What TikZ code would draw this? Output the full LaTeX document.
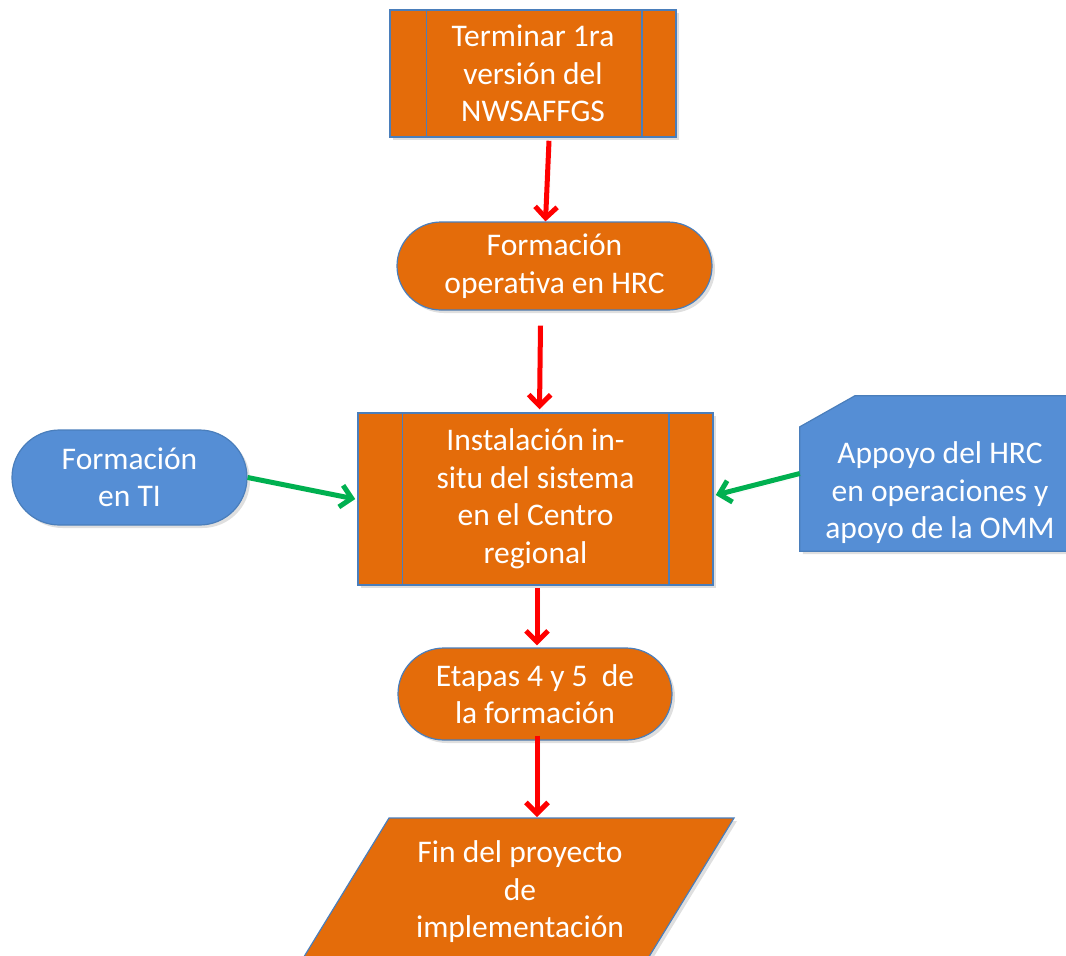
\documentclass[tikz,border=0pt]{standalone}
\usepackage{fontspec}
\setmainfont{Carlito}
\usetikzlibrary{shapes.misc,arrows.meta,shadows}
\definecolor{orF}{HTML}{E46C0A}
\definecolor{blF}{HTML}{558ED5}
\definecolor{blB}{HTML}{4A7EBB}
\definecolor{redA}{HTML}{FF0000}
\definecolor{grnA}{HTML}{00B050}
\tikzset{
  shd/.style={drop shadow={opacity=0.25,shadow xshift=3pt,shadow yshift=-3pt}},
  txt/.style={text=white,font=\fontsize{31.5}{37.5}\selectfont,align=center,inner sep=0pt},
  procbox/.style={rectangle,draw=blB,line width=1.5pt,fill=orF,shd,txt},
  roundbox/.style={rounded rectangle,draw=blB,line width=1.2pt,shd,txt},
  ra/.style={draw=redA,line width=5pt,-{Straight Barb[length=11pt,width=22pt,line width=5pt]},shd},
  ga/.style={draw=grnA,line width=5pt,-{Straight Barb[length=11pt,width=22pt,line width=5pt]},shd},
  inner/.style={draw=blB,line width=1.5pt}
}
\begin{document}
\begin{tikzpicture}[x=1pt,y=-1pt]
\useasboundingbox (0,0) rectangle (1066,956);
\clip (0,0) rectangle (1066,956);
% top process
\node[procbox,minimum width=286pt,minimum height=127pt] (t1) at (533,73.5)
  {Terminar 1ra\\versión del\\NWSAFFGS};
\draw[inner] ([xshift=37pt]t1.north west) -- ([xshift=37pt]t1.south west);
\draw[inner] ([xshift=-35pt]t1.north east) -- ([xshift=-35pt]t1.south east);
% formacion operativa
\node[roundbox,fill=orF,minimum width=315pt,minimum height=88pt] (f1) at (554.5,266)
  {Formación\\operativa en HRC};
% instalacion
\node[procbox,minimum width=355pt,minimum height=172pt] (inst) at (535.5,499)
  {Instalación in-\\situ del sistema\\en el Centro\\regional};
\draw[inner] ([xshift=45pt]inst.north west) -- ([xshift=45pt]inst.south west);
\draw[inner] ([xshift=-45pt]inst.north east) -- ([xshift=-45pt]inst.south east);
% formacion en TI
\node[roundbox,fill=blF,minimum width=235pt,minimum height=95pt] (fti) at (129.5,477.5)
  {Formación\\en TI};
% appoyo card
\node[rectangle,inner sep=0pt,minimum width=280pt,minimum height=155pt] (apo) at (940,473.5) {};
\filldraw[draw=blB,line width=1.2pt,fill=blF,shd]
  ([yshift=-31pt]apo.north west) -- ([xshift=55pt]apo.north west) -- (apo.north east)
  -- (apo.south east) -- (apo.south west) -- cycle;
\node[txt] (apot) at (940,493) {Appoyo del HRC\\en operaciones y\\apoyo de la OMM};
% etapas
\node[roundbox,fill=orF,minimum width=274pt,minimum height=92pt] (et) at (535,694)
  {Etapas 4 y 5~ de\\la formación};
% fin parallelogram
\filldraw[draw=blB,line width=1.2pt,fill=orF,shd]
  (389,818) -- (734,818) -- (647,960) -- (302,960) -- cycle;
\coordinate (fintop) at (537,817);
\node[txt] (fin) at (520,892) {Fin del proyecto\\de\\implementación};
% arrows
\draw[ra] ([xshift=16pt,yshift=-3pt]t1.south) -- ([xshift=-9pt]f1.north);
\draw[ra] ([xshift=-14pt,yshift=-15pt]f1.south) -- ([xshift=4pt,yshift=3pt]inst.north);
\draw[ra] ([xshift=1.5pt,yshift=-2pt]inst.south) -- ([xshift=2pt,yshift=2pt]et.north);
\draw[ra] ([xshift=2pt,yshift=5pt]et.south) -- (fintop);
\draw[ga] (fti.east) -- ([xshift=-2pt]inst.west);
\draw[ga] (apo.west) -- ([xshift=2pt,yshift=4pt]inst.east);
\end{tikzpicture}
\end{document}
